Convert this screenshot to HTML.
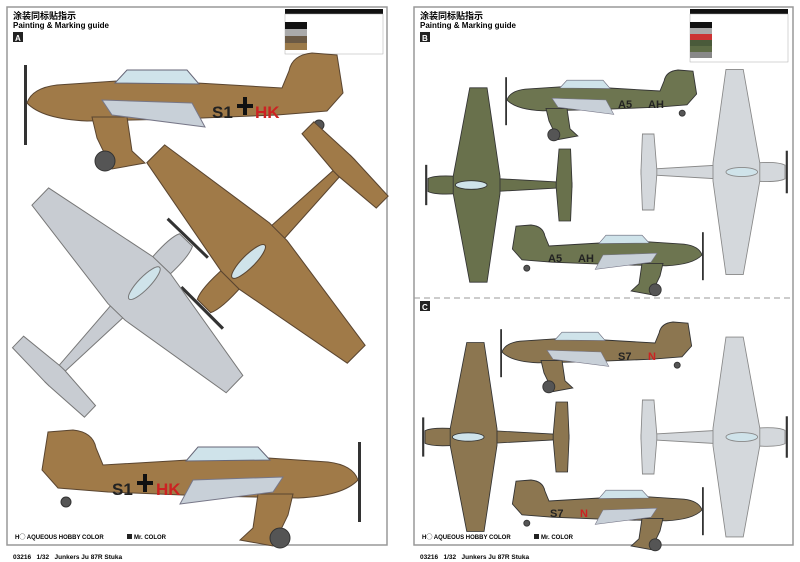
<!DOCTYPE html>
<html><head><meta charset="utf-8"><style>
body{margin:0;background:#fff;}
svg{display:block}
text{font-family:"Liberation Sans","Noto Sans CJK SC",sans-serif}
</style></head><body>
<svg width="800" height="562" viewBox="0 0 800 562" xmlns="http://www.w3.org/2000/svg">
<defs>
<g id="side">
 <rect x="-3" y="12" width="3" height="80" fill="#333" stroke="none"/>
 <path d="M0,50 Q5,35 30,32 L90,28 L170,30 L255,35 L262,18 Q265,2 285,0 L310,2 L316,40 L300,58 L250,62 L150,66 L60,68 Q15,66 0,50 Z"/>
 <path d="M65,64 L100,64 L105,98 L118,110 L85,116 L70,85 Z"/>
 <circle cx="78" cy="108" r="10" fill="#555" stroke="#333"/>
 <circle cx="292" cy="72" r="5" fill="#555" stroke="#333"/>
 <path d="M88,30 L100,17 L160,17 L172,31 Z" fill="#cfe3ea" stroke="#667" stroke-width="1"/>
 <path d="M75,47 L165,50 L178,74 L85,62 Z" fill="#c8d0d8" stroke="#778" stroke-width="1"/>
</g>
<g id="top">
 <path d="M0,-9 Q10,-14 40,-12 L200,-3 L200,3 L40,12 Q10,14 0,9 Z"/>
 <path d="M35,-12 L58,-135 L82,-135 L100,-12 L100,12 L82,135 L58,135 L35,12 Z"/>
 <path d="M178,-3 L182,-50 L198,-50 L200,-3 L200,3 L198,50 L182,50 L178,3 Z"/>
 <rect x="-4" y="-28" width="3" height="56" fill="#333" stroke="none"/>
 <ellipse cx="60" cy="0" rx="22" ry="6" fill="#cfe3ea"/>
</g>
</defs>
<rect x="7" y="7" width="380" height="538" fill="#fff" stroke="#999" stroke-width="1.5"/>
<rect x="414" y="7" width="379" height="538" fill="#fff" stroke="#999" stroke-width="1.5"/>
<line x1="414" y1="298" x2="793" y2="298" stroke="#999" stroke-dasharray="6,4"/>
<text x="13" y="19" font-size="9" font-weight="bold">涂装同标贴指示</text>
<text x="13" y="28" font-size="8" font-weight="bold">Painting &amp; Marking guide</text>
<rect x="13" y="32" width="10" height="10" fill="#222"/><text x="15" y="41" font-size="8" fill="#fff" font-weight="bold">A</text>
<text x="420" y="19" font-size="9" font-weight="bold">涂装同标贴指示</text>
<text x="420" y="28" font-size="8" font-weight="bold">Painting &amp; Marking guide</text>
<rect x="420" y="32" width="10" height="10" fill="#222"/><text x="422" y="41" font-size="8" fill="#fff" font-weight="bold">B</text>
<rect x="420" y="301" width="10" height="10" fill="#222"/><text x="422" y="310" font-size="8" fill="#fff" font-weight="bold">C</text>
<g>
<rect x="285" y="9" width="98" height="5" fill="#111"/>
<rect x="285" y="14" width="98" height="40" fill="#fff" stroke="#aaa" stroke-width=".5"/>
<rect x="285" y="22" width="22" height="7" fill="#111"/><rect x="285" y="29" width="22" height="7" fill="#aaa"/>
<rect x="285" y="36" width="22" height="7" fill="#6b5a45"/><rect x="285" y="43" width="22" height="7" fill="#9b7a4a"/>
</g>
<g>
<rect x="690" y="9" width="98" height="5" fill="#111"/>
<rect x="690" y="14" width="98" height="48" fill="#fff" stroke="#aaa" stroke-width=".5"/>
<rect x="690" y="22" width="22" height="6" fill="#111"/><rect x="690" y="28" width="22" height="6" fill="#aaa"/>
<rect x="690" y="34" width="22" height="6" fill="#c33"/><rect x="690" y="40" width="22" height="6" fill="#4a5a3a"/>
<rect x="690" y="46" width="22" height="6" fill="#5d6b45"/><rect x="690" y="52" width="22" height="6" fill="#888"/>
</g>
<!-- Left panel -->
<use href="#side" transform="translate(27,53)" fill="#a07a48" stroke="#5a4530" stroke-width="1"/>
<text x="212" y="118" font-size="17" font-weight="bold" fill="#222">S1</text>
<path d="M237,104 h6 v-7 h4 v7 h6 v4 h-6 v7 h-4 v-7 h-6 z" fill="#111"/>
<text x="255" y="118" font-size="17" font-weight="bold" fill="#c22">HK</text>
<use href="#top" transform="translate(204,306) rotate(-45) scale(1.05)" fill="#a07a48" stroke="#5a4530" stroke-width="1"/>
<use href="#top" transform="translate(186,240) rotate(134) scale(1)" fill="#c8ccd2" stroke="#777" stroke-width="1"/>
<use href="#side" transform="translate(358,430) scale(-1,1)" fill="#a07a48" stroke="#5a4530" stroke-width="1"/>
<text x="112" y="495" font-size="17" font-weight="bold" fill="#222">S1</text>
<path d="M137,481 h6 v-7 h4 v7 h6 v4 h-6 v7 h-4 v-7 h-6 z" fill="#111"/>
<text x="156" y="495" font-size="17" font-weight="bold" fill="#c22">HK</text>
<!-- Right B -->
<use href="#side" transform="translate(507,70) scale(0.6)" fill="#6d7550" stroke="#333" stroke-width="1.5"/>
<text x="618" y="108" font-size="11" font-weight="bold" fill="#222">A5</text><text x="648" y="108" font-size="11" font-weight="bold" fill="#222">AH</text>
<use href="#top" transform="translate(428,185) scale(0.72)" fill="#69714c" stroke="#333" stroke-width="1.2"/>
<use href="#top" transform="translate(785,172) scale(-0.72,0.76)" fill="#d4d8dc" stroke="#888" stroke-width="1.2"/>
<use href="#side" transform="translate(702,225) scale(-0.6,0.6)" fill="#6d7550" stroke="#333" stroke-width="1.5"/>
<text x="548" y="262" font-size="11" font-weight="bold" fill="#222">A5</text><text x="578" y="262" font-size="11" font-weight="bold" fill="#222">AH</text>
<!-- Right C -->
<use href="#side" transform="translate(502,322) scale(0.6)" fill="#8c7650" stroke="#333" stroke-width="1.5"/>
<text x="618" y="360" font-size="11" font-weight="bold" fill="#222">S7</text><text x="648" y="360" font-size="11" font-weight="bold" fill="#c22">N</text>
<use href="#top" transform="translate(425,437) scale(0.72,0.7)" fill="#8c7650" stroke="#333" stroke-width="1.2"/>
<use href="#top" transform="translate(785,437) scale(-0.72,0.74)" fill="#d4d8dc" stroke="#888" stroke-width="1.2"/>
<use href="#side" transform="translate(702,480) scale(-0.6,0.6)" fill="#8c7650" stroke="#333" stroke-width="1.5"/>
<text x="550" y="517" font-size="11" font-weight="bold" fill="#222">S7</text><text x="580" y="517" font-size="11" font-weight="bold" fill="#c22">N</text>
<!-- footers -->
<text x="15" y="539" font-size="6" font-weight="bold">H◯ AQUEOUS HOBBY COLOR</text>
<rect x="127" y="534" width="5" height="5" fill="#222"/><text x="134" y="539" font-size="6" font-weight="bold">Mr. COLOR</text>
<text x="422" y="539" font-size="6" font-weight="bold">H◯ AQUEOUS HOBBY COLOR</text>
<rect x="534" y="534" width="5" height="5" fill="#222"/><text x="541" y="539" font-size="6" font-weight="bold">Mr. COLOR</text>
<text x="13" y="559" font-size="6.5" font-weight="bold" xml:space="preserve">03216   1/32   Junkers Ju 87R Stuka</text>
<text x="420" y="559" font-size="6.5" font-weight="bold" xml:space="preserve">03216   1/32   Junkers Ju 87R Stuka</text>
</svg>
</body></html>
